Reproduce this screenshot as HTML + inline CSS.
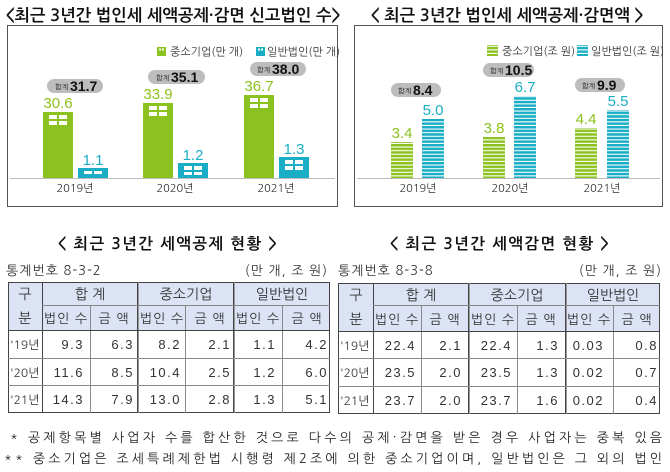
<!DOCTYPE html>
<html><head><meta charset="utf-8"><style>
body{margin:0;background:#fff;}
svg{display:block;font-family:"Liberation Sans","NanumGothic","Noto Sans CJK KR",sans-serif;}
.t{font-family:"NanumGothic","Noto Sans CJK KR",sans-serif;}
</style></head><body>
<svg width="670" height="472" viewBox="0 0 670 472" xmlns="http://www.w3.org/2000/svg">
<defs>
<pattern id="gs" width="4" height="3.6" patternUnits="userSpaceOnUse"><rect width="4" height="2.6" fill="#8cc21f"/><rect y="2.6" width="4" height="1" fill="#fff"/></pattern>
<pattern id="ts" width="4" height="3.6" patternUnits="userSpaceOnUse"><rect width="4" height="2.6" fill="#1aaec6"/><rect y="2.6" width="4" height="1" fill="#fff"/></pattern>
</defs>
<!-- titles -->
<text x="173" y="21" text-anchor="middle" class="t" font-size="16.5" font-weight="bold" fill="#111">&lt;최근 3년간 법인세 세액공제·감면 신고법인 수&gt;</text>
<text x="507" y="21" text-anchor="middle" class="t" font-size="16.5" font-weight="bold" fill="#111">&lt; 최근 3년간 법인세 세액공제·감면액 &gt;</text>
<!-- left box -->
<rect x="7.5" y="25.5" width="330" height="181" fill="#fff" stroke="#555" stroke-width="1"/>
<line x1="10" y1="178.5" x2="335" y2="178.5" stroke="#bbb"/>
<rect x="157" y="47" width="9" height="9" fill="#8cc21f"/><rect x="159" y="48.5" width="2" height="2" fill="#fff"/><rect x="162" y="48.5" width="2" height="2" fill="#fff"/>
<text x="170" y="55.5" font-size="11" class="t" fill="#333">중소기업(만 개)</text>
<rect x="256" y="47" width="9" height="9" fill="#1aaec6"/><rect x="258" y="48.5" width="2" height="2" fill="#fff"/><rect x="261" y="48.5" width="2" height="2" fill="#fff"/>
<text x="267" y="55.5" font-size="11" class="t" fill="#333">일반법인(만 개)</text>
<g fill="#8cc21f">
<rect x="43" y="112" width="30" height="66"/><rect x="143" y="103" width="30" height="75"/><rect x="244" y="95" width="30" height="83"/></g>
<g fill="#1aaec6">
<rect x="78" y="168" width="30" height="10"/><rect x="178" y="163" width="30" height="15"/><rect x="279" y="157" width="30" height="21"/></g>
<g fill="#fff">
<rect x="49" y="115" width="8" height="4"/><rect x="59" y="115" width="8" height="4"/><rect x="49" y="121" width="8" height="4"/><rect x="59" y="121" width="8" height="4"/>
<rect x="149" y="106" width="8" height="4"/><rect x="159" y="106" width="8" height="4"/><rect x="149" y="112" width="8" height="4"/><rect x="159" y="112" width="8" height="4"/>
<rect x="250" y="98" width="8" height="4"/><rect x="260" y="98" width="8" height="4"/><rect x="250" y="104" width="8" height="4"/><rect x="260" y="104" width="8" height="4"/>
<rect x="84" y="171" width="8" height="3"/><rect x="94" y="171" width="8" height="3"/>
<rect x="184" y="166" width="8" height="4"/><rect x="194" y="166" width="8" height="4"/><rect x="184" y="172" width="8" height="3"/><rect x="194" y="172" width="8" height="3"/>
<rect x="285" y="160" width="8" height="4"/><rect x="295" y="160" width="8" height="4"/><rect x="285" y="166" width="8" height="4"/><rect x="295" y="166" width="8" height="4"/>
</g>
<g font-size="15" text-anchor="middle" fill="#8cc21f"><text x="58" y="108">30.6</text><text x="158" y="99">33.9</text><text x="259" y="91">36.7</text></g>
<g font-size="15" text-anchor="middle" fill="#1aaec6"><text x="93" y="165">1.1</text><text x="193" y="160">1.2</text><text x="294" y="154">1.3</text></g>
<g fill="#bdbdbd"><rect x="47" y="79" width="56" height="14" rx="7"/><rect x="148" y="70" width="57" height="14" rx="7"/><rect x="250" y="62" width="56" height="14" rx="7"/></g>
<g fill="#111"><text x="55" y="89.5" font-size="7" class="t">합계</text><text x="70" y="91" font-size="14" font-weight="bold">31.7</text>
<text x="156" y="80.5" font-size="7" class="t">합계</text><text x="171" y="82" font-size="14" font-weight="bold">35.1</text>
<text x="257" y="72.5" font-size="7" class="t">합계</text><text x="272" y="74" font-size="14" font-weight="bold">38.0</text></g>
<g font-size="11" text-anchor="middle" fill="#333" class="t"><text x="75" y="192">2019년</text><text x="175" y="192">2020년</text><text x="276" y="192">2021년</text></g>
<!-- right box -->
<rect x="354.5" y="25.5" width="308" height="181" fill="#fff" stroke="#555" stroke-width="1"/>
<line x1="357" y1="178.5" x2="660" y2="178.5" stroke="#bbb"/>
<rect x="487" y="45" width="11" height="11" fill="url(#gs)"/>
<text x="502" y="55" font-size="11" class="t" fill="#333">중소기업(조 원)</text>
<rect x="577" y="45" width="11" height="11" fill="url(#ts)"/>
<text x="591" y="55" font-size="11" class="t" fill="#333">일반법인(조 원)</text>
<rect x="391" y="142" width="22" height="36" fill="url(#gs)"/><rect x="422" y="119" width="22" height="59" fill="url(#ts)"/>
<rect x="483" y="137" width="22" height="41" fill="url(#gs)"/><rect x="514" y="96" width="22" height="82" fill="url(#ts)"/>
<rect x="575" y="128" width="22" height="50" fill="url(#gs)"/><rect x="607" y="110" width="22" height="68" fill="url(#ts)"/>
<g font-size="15" text-anchor="middle" fill="#8cc21f"><text x="402" y="138">3.4</text><text x="494" y="133">3.8</text><text x="586" y="124">4.4</text></g>
<g font-size="15" text-anchor="middle" fill="#1aaec6"><text x="433" y="115">5.0</text><text x="525" y="92">6.7</text><text x="618" y="106">5.5</text></g>
<g fill="#bdbdbd"><rect x="391" y="83" width="50" height="14" rx="7"/><rect x="483" y="63" width="51" height="14" rx="7"/><rect x="575" y="78" width="50" height="14" rx="7"/></g>
<g fill="#111"><text x="398" y="93.5" font-size="7" class="t">합계</text><text x="413" y="95" font-size="14" font-weight="bold">8.4</text>
<text x="490" y="73.5" font-size="7" class="t">합계</text><text x="505" y="75" font-size="14" font-weight="bold">10.5</text>
<text x="582" y="88.5" font-size="7" class="t">합계</text><text x="597" y="90" font-size="14" font-weight="bold">9.9</text></g>
<g font-size="11" text-anchor="middle" fill="#333" class="t"><text x="418" y="192">2019년</text><text x="510" y="192">2020년</text><text x="602" y="192">2021년</text></g>

<!-- table titles -->
<text x="168" y="249" text-anchor="middle" class="t" font-size="15.5" font-weight="bold" fill="#111" letter-spacing="1.5">&lt; 최근 3년간 세액공제 현황 &gt;</text>
<text x="500" y="249" text-anchor="middle" class="t" font-size="15.5" font-weight="bold" fill="#111" letter-spacing="1.5">&lt; 최근 3년간 세액감면 현황 &gt;</text>
<g class="t" font-size="13" fill="#333" letter-spacing="1">
<text x="6" y="275">통계번호 8-3-2</text><text x="328" y="275" text-anchor="end">(만 개, 조 원)</text>
<text x="338" y="275">통계번호 8-3-8</text><text x="662" y="275" text-anchor="end">(만 개, 조 원)</text>
</g>

<!-- left table -->
<g>
<rect x="8" y="282" width="322" height="48" fill="#dce3f4"/>
<g stroke="#444" stroke-width="1" fill="none">
<rect x="8.5" y="282.5" width="321" height="130"/>
<line x1="42.5" y1="282" x2="42.5" y2="413"/><line x1="137.5" y1="282" x2="137.5" y2="413"/><line x1="138.5" y1="282" x2="138.5" y2="413" stroke="#999"/><line x1="233.5" y1="282" x2="233.5" y2="413"/><line x1="234.5" y1="282" x2="234.5" y2="413" stroke="#999"/>
<line x1="42" y1="305.5" x2="330" y2="305.5" stroke="#888"/>
<line x1="90.5" y1="305" x2="90.5" y2="413" stroke="#888"/><line x1="185.5" y1="305" x2="185.5" y2="413" stroke="#888"/><line x1="282.5" y1="305" x2="282.5" y2="413" stroke="#888"/>
<line x1="8" y1="330.5" x2="330" y2="330.5"/><line x1="8" y1="358.5" x2="330" y2="358.5" stroke="#888"/><line x1="8" y1="385.5" x2="330" y2="385.5" stroke="#888"/>
</g>
<g class="t" font-size="14" fill="#333" text-anchor="middle">
<text x="25" y="299">구</text><text x="25" y="323">분</text>
<text x="90" y="299">합 계</text><text x="186" y="299">중소기업</text><text x="282" y="299">일반법인</text>
</g>
<g class="t" font-size="13" fill="#333" text-anchor="middle" letter-spacing="1">
<text x="66" y="323">법인 수</text><text x="114" y="323">금 액</text><text x="162" y="323">법인 수</text><text x="210" y="323">금 액</text><text x="258" y="323">법인 수</text><text x="307" y="323">금 액</text>
</g>
<g class="t" font-size="12" fill="#333"><text x="10" y="349">'19년</text><text x="10" y="377">'20년</text><text x="10" y="404">'21년</text></g>
<g font-size="13" fill="#333" text-anchor="end" letter-spacing="1.5">
<text x="84" y="349">9.3</text><text x="134" y="349">6.3</text><text x="181" y="349">8.2</text><text x="231" y="349">2.1</text><text x="276" y="349">1.1</text><text x="328" y="349">4.2</text>
<text x="84" y="377">11.6</text><text x="134" y="377">8.5</text><text x="181" y="377">10.4</text><text x="231" y="377">2.5</text><text x="276" y="377">1.2</text><text x="328" y="377">6.0</text>
<text x="84" y="404">14.3</text><text x="134" y="404">7.9</text><text x="181" y="404">13.0</text><text x="231" y="404">2.8</text><text x="276" y="404">1.3</text><text x="328" y="404">5.1</text>
</g>
</g>

<!-- right table -->
<g>
<rect x="338" y="283" width="322" height="48" fill="#dce3f4"/>
<g stroke="#444" stroke-width="1" fill="none">
<rect x="338.5" y="283.5" width="321" height="130"/>
<line x1="373.5" y1="283" x2="373.5" y2="414"/><line x1="468.5" y1="283" x2="468.5" y2="414"/><line x1="469.5" y1="283" x2="469.5" y2="414" stroke="#999"/><line x1="565.5" y1="283" x2="565.5" y2="414"/><line x1="566.5" y1="283" x2="566.5" y2="414" stroke="#999"/>
<line x1="373" y1="305.5" x2="660" y2="305.5" stroke="#888"/>
<line x1="421.5" y1="305" x2="421.5" y2="414" stroke="#888"/><line x1="517.5" y1="305" x2="517.5" y2="414" stroke="#888"/><line x1="613.5" y1="305" x2="613.5" y2="414" stroke="#888"/>
<line x1="338" y1="331.5" x2="660" y2="331.5"/><line x1="338" y1="358.5" x2="660" y2="358.5" stroke="#888"/><line x1="338" y1="386.5" x2="660" y2="386.5" stroke="#888"/>
</g>
<g class="t" font-size="14" fill="#333" text-anchor="middle">
<text x="356" y="300">구</text><text x="356" y="324">분</text>
<text x="421" y="300">합 계</text><text x="517" y="300">중소기업</text><text x="613" y="300">일반법인</text>
</g>
<g class="t" font-size="13" fill="#333" text-anchor="middle" letter-spacing="1">
<text x="397" y="324">법인 수</text><text x="445" y="324">금 액</text><text x="493" y="324">법인 수</text><text x="541" y="324">금 액</text><text x="589" y="324">법인 수</text><text x="637" y="324">금 액</text>
</g>
<g class="t" font-size="12" fill="#333"><text x="340" y="350">'19년</text><text x="340" y="377">'20년</text><text x="340" y="405">'21년</text></g>
<g font-size="13" fill="#333" text-anchor="end" letter-spacing="1.5">
<text x="416" y="350">22.4</text><text x="462" y="350">2.1</text><text x="512" y="350">22.4</text><text x="559" y="350">1.3</text><text x="604" y="350">0.03</text><text x="658" y="350">0.8</text>
<text x="416" y="377">23.5</text><text x="462" y="377">2.0</text><text x="512" y="377">23.5</text><text x="559" y="377">1.3</text><text x="604" y="377">0.02</text><text x="658" y="377">0.7</text>
<text x="416" y="405">23.7</text><text x="462" y="405">2.0</text><text x="512" y="405">23.7</text><text x="559" y="405">1.6</text><text x="604" y="405">0.02</text><text x="658" y="405">0.4</text>
</g>
</g>

<!-- notes -->
<g class="t" font-size="13" fill="#222">
<text x="10" y="442" textLength="652" lengthAdjust="spacing">*  공제항목별 사업자 수를 합산한 것으로 다수의 공제·감면을 받은 경우 사업자는 중복 있음</text>
<text x="4" y="463" textLength="658" lengthAdjust="spacing">**  중소기업은 조세특례제한법 시행령 제2조에 의한 중소기업이며, 일반법인은 그 외의 법인</text>
</g>
</svg>
</body></html>
